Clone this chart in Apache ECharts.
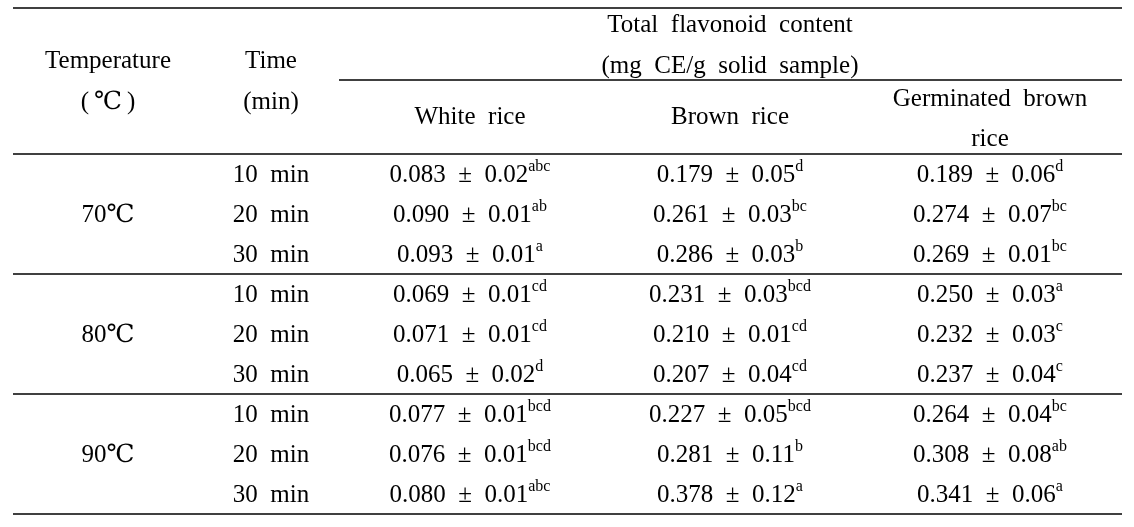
<!DOCTYPE html>
<html>
<head>
<meta charset="utf-8">
<script src="https://cdn.jsdelivr.net/npm/echarts@6/dist/echarts.min.js"></script>
<style>html,body{margin:0;padding:0;background:#fff;}#c{width:1134px;height:527px;}</style>
</head>
<body>
<div id="c"></div>
<script>
// ---- data ----
var temperatures = ['70℃', '80℃', '90℃'];
var times = ['10  min', '20  min', '30  min'];
var whiteMean = [0.083, 0.090, 0.093, 0.069, 0.071, 0.065, 0.077, 0.076, 0.080];
var whiteSD   = [0.02, 0.01, 0.01, 0.01, 0.01, 0.02, 0.01, 0.01, 0.01];
var whiteSig  = ['abc', 'ab', 'a', 'cd', 'cd', 'd', 'bcd', 'bcd', 'abc'];
var brownMean = [0.179, 0.261, 0.286, 0.231, 0.210, 0.207, 0.227, 0.281, 0.378];
var brownSD   = [0.05, 0.03, 0.03, 0.03, 0.01, 0.04, 0.05, 0.11, 0.12];
var brownSig  = ['d', 'bc', 'b', 'bcd', 'cd', 'cd', 'bcd', 'b', 'a'];
var germMean  = [0.189, 0.274, 0.269, 0.250, 0.232, 0.237, 0.264, 0.308, 0.341];
var germSD    = [0.06, 0.07, 0.01, 0.03, 0.03, 0.04, 0.04, 0.08, 0.06];
var germSig   = ['d', 'bc', 'bc', 'a', 'c', 'c', 'bc', 'ab', 'a'];
var headTemperature = ['Temperature', '(\u2009℃\u2009)'];
var headTime = ['Time', '(min)'];
var headGroup = ['Total  flavonoid  content', '(mg  CE/g  solid  sample)'];
var headSamples = [['White  rice'], ['Brown  rice'], ['Germinated  brown', 'rice']];

// ---- layout (positions in the pixel-mapped value axes) ----
var colX = [108, 271, 470, 730, 990];
var rowY0 = 175, rowStep = 40;
var FONT = '"Liberation Serif", "DejaVu Serif", "Times New Roman", "Noto Sans CJK KR", serif';

var texts = []; // [x, y, richText]
function rowY(i) { return rowY0 + rowStep * i; }
texts.push([colX[0], 61, '{m|' + headTemperature[0] + '}']);
texts.push([colX[0], 102, '{m|' + headTemperature[1] + '}']);
texts.push([colX[1], 61, '{m|' + headTime[0] + '}']);
texts.push([colX[1], 102, '{m|' + headTime[1] + '}']);
texts.push([730, 25, '{m|' + headGroup[0] + '}']);
texts.push([730, 66, '{m|' + headGroup[1] + '}']);
texts.push([colX[2], 117, '{m|' + headSamples[0][0] + '}']);
texts.push([colX[3], 117, '{m|' + headSamples[1][0] + '}']);
texts.push([colX[4], 99, '{m|' + headSamples[2][0] + '}']);
texts.push([colX[4], 139, '{m|' + headSamples[2][1] + '}']);
temperatures.forEach(function (t, g) {
  texts.push([colX[0], rowY(g * 3 + 1), '{m|' + t + '}']);
});
var cols = [[whiteMean, whiteSD, whiteSig], [brownMean, brownSD, brownSig], [germMean, germSD, germSig]];
for (var i = 0; i < 9; i++) {
  texts.push([colX[1], rowY(i), '{m|' + times[i % 3] + '}']);
  cols.forEach(function (c, k) {
    texts.push([colX[2 + k], rowY(i),
      '{m|' + c[0][i].toFixed(3) + '  ±  ' + c[1][i].toFixed(2) + '}{s|' + c[2][i] + '}']);
  });
}

// rules: [x1, x2, y]
var rules = [[13, 1122, 8], [339, 1122, 80], [13, 1122, 154], [13, 1122, 274], [13, 1122, 394], [13, 1122, 514]];

var chart = echarts.init(document.getElementById('c'), null, { renderer: 'canvas' });
chart.setOption({
  backgroundColor: '#fff',
  animation: false,
  grid: { left: 0, right: 0, top: 0, bottom: 0 },
  xAxis: { type: 'value', min: 0, max: 1134, show: false },
  yAxis: { type: 'value', min: 0, max: 527, inverse: true, show: false },
  series: [
    {
      type: 'custom',
      data: rules,
      renderItem: function (params, api) {
        var p1 = api.coord([api.value(0), api.value(2)]);
        var p2 = api.coord([api.value(1), api.value(2)]);
        return {
          type: 'line',
          shape: { x1: p1[0], y1: p1[1], x2: p2[0], y2: p2[1] },
          style: { stroke: '#000', lineWidth: 1.3 }
        };
      }
    },
    {
      type: 'custom',
      data: texts.map(function (t) { return [t[0], t[1], t[2]]; }),
      dimensions: ['x', 'y', { name: 't', type: 'ordinal' }],
      renderItem: function (params, api) {
        var d = texts[params.dataIndex];
        var p = api.coord([d[0], d[1]]);
        return {
          type: 'text',
          x: p[0], y: p[1],
          style: {
            text: d[2],
            align: 'center',
            verticalAlign: 'middle',
            fill: '#000',
            fontFamily: FONT,
            fontSize: 25,
            rich: {
              m: { fontSize: 25, lineHeight: 33, fontFamily: FONT, fill: '#000' },
              s: { fontSize: 16, lineHeight: 16, verticalAlign: 'top', fontFamily: FONT, fill: '#000' }
            }
          }
        };
      }
    }
  ]
});
</script>
</body>
</html>
